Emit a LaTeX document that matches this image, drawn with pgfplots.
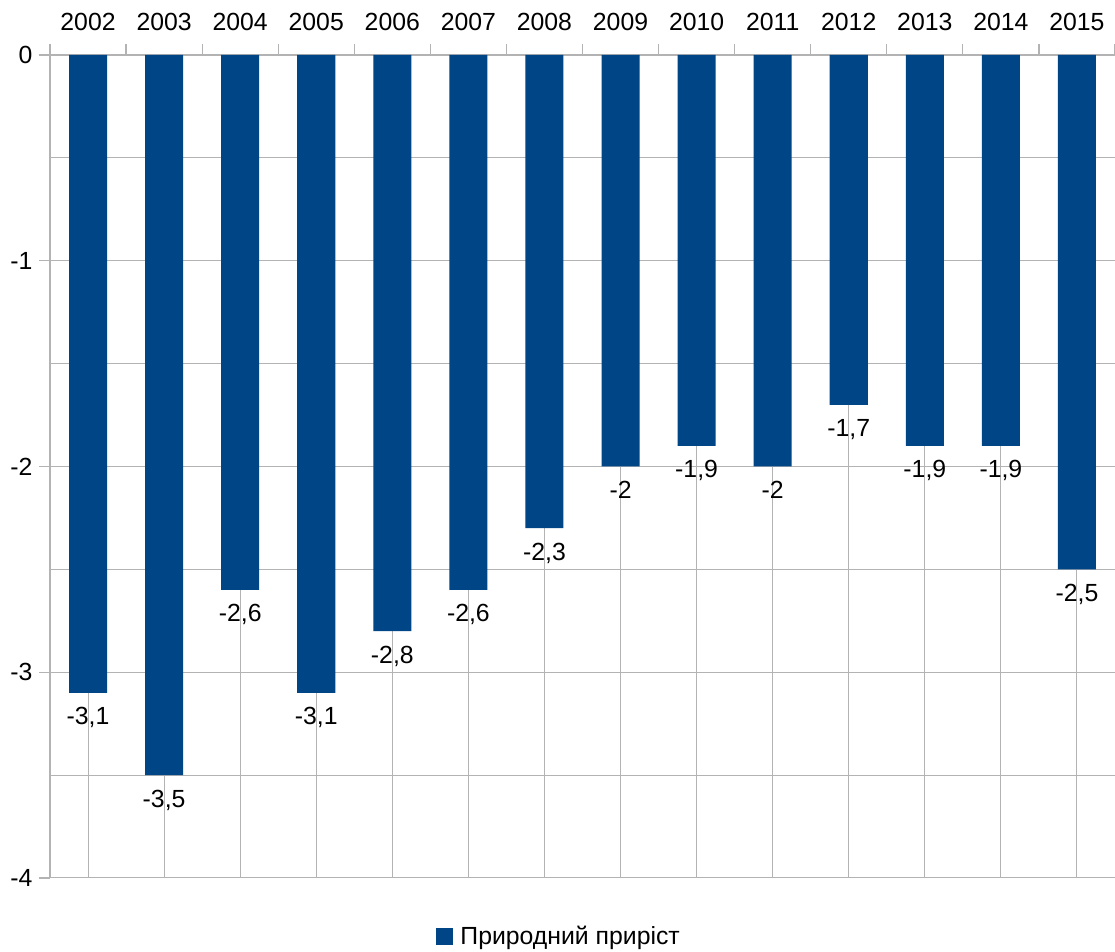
\documentclass[border=0pt]{standalone}
\usepackage{pgfplots}
\pgfplotsset{compat=1.18}
\usepackage{fontspec}
\setmainfont{Liberation Sans}
\definecolor{barblue}{HTML}{004586}
\definecolor{gridgray}{HTML}{B3B3B3}
\pgfplotsset{/pgf/number format/assume math mode=true,
  /pgf/number format/use comma,
  /pgf/number format/fixed,
  /pgf/number format/precision=1}
\begin{document}
\fontsize{12.4}{15}\selectfont
\begin{tikzpicture}
\begin{axis}[
  at={(0,0)}, anchor=south west,
  scale only axis, width=532.5pt, height=411.5pt,
  xmin=-0.5, xmax=13.5, ymin=-4, ymax=0,
  clip=false,
  axis x line*=top, axis y line*=left,
  axis line style={draw=gridgray, line width=0.8pt, -},
  tick align=outside,
  tick style={gridgray, line width=0.6pt},
  major tick length=5.5pt, minor tick length=0pt,
  xtick={-0.5,0.5,...,13.5}, xticklabels={},
  extra x ticks={0,1,2,3,4,5,6,7,8,9,10,11,12,13},
  extra x tick labels={2002,2003,2004,2005,2006,2007,2008,2009,2010,2011,2012,2013,2014,2015},
  extra x tick style={grid=major, major tick length=0pt,
    xticklabel style={yshift=8pt}},
  ytick={-4,-3,-2,-1,0},
  minor ytick={-3.5,-2.5,-1.5,-0.5},
  ymajorgrids=true, yminorgrids=true,
  yticklabel style={xshift=1pt},
  major grid style={gridgray, line width=0.5pt},
  minor grid style={gridgray, line width=0.5pt},
  tick label style={font=\fontsize{12.4}{15}\selectfont, text=black},
  ybar, bar width=0.5,
  nodes near coords,
  nodes near coords style={font=\fontsize{12.4}{15}\selectfont, text=black, yshift=-3pt},
  legend style={at={(0.479,-0.0715)}, anchor=center, draw=none, fill=none,
    font=\fontsize{12.4}{15}\selectfont},
  legend image code/.code={\fill[barblue] (0pt,-4.25pt) rectangle (8.5pt,4.25pt);},
]
\addplot[fill=barblue, draw=none] coordinates {
  (0,-3.1) (1,-3.5) (2,-2.6) (3,-3.1) (4,-2.8) (5,-2.6) (6,-2.3)
  (7,-2) (8,-1.9) (9,-2) (10,-1.7) (11,-1.9) (12,-1.9) (13,-2.5)};
\addlegendentry{\hspace{1.5pt}Природний приріст}
\end{axis}
\pgfresetboundingbox
\useasboundingbox (-25pt,-37pt) rectangle (532.5pt,439pt);
\end{tikzpicture}
\end{document}
